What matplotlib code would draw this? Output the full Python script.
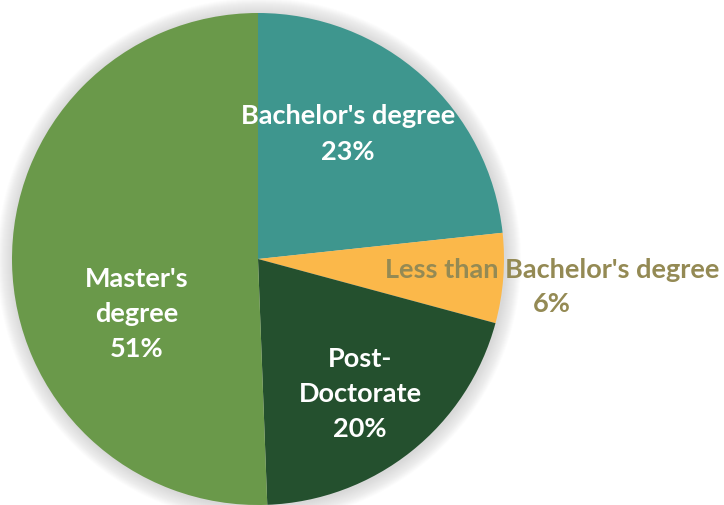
import matplotlib
matplotlib.use("Agg")
import matplotlib.pyplot as plt
from matplotlib.patches import Circle

categories = ["Bachelor's degree", "Less than Bachelor's degree", "Post-Doctorate", "Master's degree"]
values = [23.3, 5.9, 20.2, 50.6]
label_texts = ["Bachelor's degree\n23%", "Less than Bachelor's degree\n6%", "Post-\nDoctorate\n20%", "Master's\ndegree\n51%"]
colors = ["#3E968E", "#FBB84A", "#24502E", "#6A994A"]
label_colors = ["white", "#948A54", "white", "white"]

W, H = 724, 505
fig = plt.figure(figsize=(W / 100, H / 100), dpi=100)
ax = fig.add_axes([0, 0, 1, 1])

cx, cy, r = 258, H - 259, 246

# soft glow shadow
for k in range(16, 0, -1):
    ax.add_patch(Circle((cx + 1, cy - 1), r + k, color="#999999", alpha=0.025, lw=0, zorder=0))

ax.pie(values, colors=colors, startangle=90, counterclock=False,
       center=(cx, cy), radius=r, frame=True,
       wedgeprops=dict(linewidth=0, antialiased=True))
ax.set_xlim(0, W)
ax.set_ylim(0, H)
ax.set_aspect('equal')
ax.axis('off')

label_pos = [(348, 134), (552, 287), (360, 394), (137, 314)]
for txt, (x, y), c in zip(label_texts, label_pos, label_colors):
    ax.text(x, H - y, txt, ha='center', va='center', color=c, fontsize=19.5,
            fontweight='bold', family='Lato', linespacing=1.55, zorder=5)

fig.savefig("out.png", dpi=100)
